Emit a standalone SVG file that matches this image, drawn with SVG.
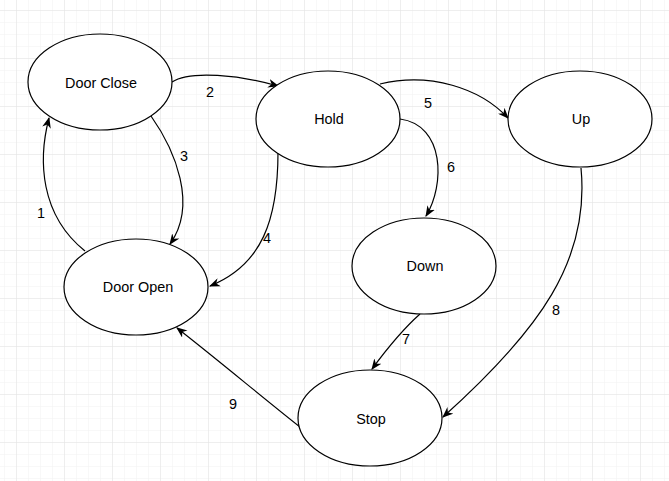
<svg xmlns="http://www.w3.org/2000/svg" width="669" height="481" viewBox="0 0 669 481">
<defs>
<pattern id="minor" width="12" height="12" patternUnits="userSpaceOnUse" x="4" y="10">
<path d="M0 0 H12 M0 0 V12" fill="none" stroke="#f1f1f1" stroke-width="1"/>
</pattern>
<pattern id="major" width="48" height="48" patternUnits="userSpaceOnUse" x="16" y="10">
<path d="M0 0 H48 M0 0 V48" fill="none" stroke="#e3e3e3" stroke-width="1"/>
</pattern>
<marker id="arr" viewBox="0 0 10 8" refX="9" refY="4" markerWidth="11" markerHeight="9" markerUnits="userSpaceOnUse" orient="auto">
<path d="M0,0 L10,4 L0,8 L3,4 z" fill="#000"/>
</marker>
</defs>
<style>
.node ellipse{fill:#fff;stroke:#000;stroke-width:1.2}
.node text{font-family:"Liberation Sans",Arial,sans-serif;font-size:14.4px;fill:#000;text-anchor:middle;dominant-baseline:central}
.edges path{fill:none;stroke:#000;stroke-width:1.2;marker-end:url(#arr)}
.edges text{font-family:"Liberation Sans",Arial,sans-serif;font-size:14.4px;fill:#000;text-anchor:middle;dominant-baseline:central}
</style>
<rect width="669" height="481" fill="#fff"/>
<rect width="669" height="481" fill="url(#minor)"/>
<rect width="669" height="481" fill="url(#major)"/>
<g class="edges" id="connectors">
<path d="M85 251 C40 215, 38 160, 49 118"/>
<text x="41" y="213">1</text>
<path d="M172 82 C190 70, 240 75, 278 86"/>
<text x="210" y="92">2</text>
<path d="M151 116 C175 150, 198 205, 170 244"/>
<text x="184" y="156">3</text>
<path d="M278 152 C278 220, 262 265, 210 286"/>
<text x="267" y="238">4</text>
<path d="M380 84 C430 72, 480 88, 508 118"/>
<text x="428" y="103">5</text>
<path d="M400 119 C445 125, 445 185, 426 216"/>
<text x="451" y="167">6</text>
<path d="M420 314 C402 330, 386 350, 372 369"/>
<text x="406" y="339">7</text>
<path d="M581 168 C590 260, 540 330, 443 417"/>
<text x="556" y="310">8</text>
<path d="M300 427 C262 397, 218 360, 177 328"/>
<text x="233" y="404">9</text>
</g>
<g class="node" id="door-close"><ellipse cx="100" cy="82" rx="72" ry="48"/><text x="101" y="83">Door Close</text></g>
<g class="node" id="hold"><ellipse cx="328" cy="119" rx="72" ry="48"/><text x="329" y="119">Hold</text></g>
<g class="node" id="up"><ellipse cx="580" cy="119" rx="72" ry="48"/><text x="581" y="119">Up</text></g>
<g class="node" id="door-open"><ellipse cx="136" cy="287" rx="72" ry="48"/><text x="138" y="287">Door Open</text></g>
<g class="node" id="down"><ellipse cx="424" cy="266" rx="72" ry="48"/><text x="425" y="266">Down</text></g>
<g class="node" id="stop"><ellipse cx="370" cy="418" rx="72" ry="48"/><text x="371" y="419">Stop</text></g>
</svg>
